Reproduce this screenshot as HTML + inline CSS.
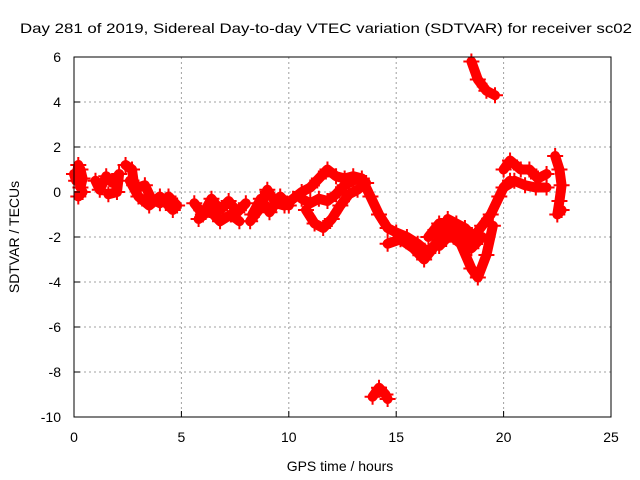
<!DOCTYPE html>
<html><head><meta charset="utf-8"><style>
body{margin:0;background:#fff}
svg{display:block;font-family:"Liberation Sans",sans-serif}
</style></head><body>
<svg id="chart" width="640" height="480">
<g id="grid"></g>
<g id="series"></g>
<g id="axes"></g>
<text x="326" y="33" font-size="14" text-anchor="middle" textLength="612" lengthAdjust="spacingAndGlyphs">Day 281 of 2019, Sidereal Day-to-day VTEC variation (SDTVAR) for receiver sc02</text>
<text x="340" y="471" font-size="14" text-anchor="middle">GPS time / hours</text>
<text x="19" y="237" font-size="14" text-anchor="middle" transform="rotate(-90 19 237)">SDTVAR / TECUs</text>
</svg>
<script>
const xTicks=[0,5,10,15,20,25];
const yTicks=[6,4,2,0,-2,-4,-6,-8,-10];
const track1=[[0,0.8],[0.1,0.5],[0.2,1.2],[0.3,1.0],[0.4,0.6],[0.3,0.2]];
const track1b=[[0.2,-0.2],[0.4,0.0]];
const track2=[[1,0.5],[1.2,0.1],[1.5,0.7],[1.8,0.4],[2.1,0.8],[2.0,0.0],[1.6,-0.1]];
const track3=[[2.4,1.2],[2.7,1.0],[2.8,0.3],[3.0,0.2],[3.3,0.3],[3.6,-0.3],[4.0,-0.5],[4.4,-0.2],[4.8,-0.6]];
const track3b=[[2.6,0.5],[3.0,-0.2],[3.5,-0.6],[4.0,-0.2],[4.6,-0.8]];
const track4=[[5.6,-0.5],[6,-1.0],[6.4,-0.3],[6.8,-0.8],[7.2,-0.4],[7.6,-0.9],[8,-0.5]];
const track4b=[[5.8,-1.2],[6.3,-0.8],[6.8,-1.3],[7.3,-1.0],[7.7,-1.3]];
const track5=[[8.2,-1.3],[8.6,-0.8],[9,0.1],[9.4,-0.5],[9.8,-0.6],[10.2,-0.3],[10.6,0.0],[11,0.2],[11.4,0.6],[11.8,1.0],[12.2,0.7],[12.6,0.6],[13,0.7],[13.4,0.6],[13.8,-0.2],[14.2,-1.0],[14.6,-1.6],[15,-1.8],[15.5,-2.0],[16,-2.3],[16.5,-2.7],[17,-2.1],[17.4,-1.2],[17.8,-1.4],[18.2,-1.6],[18.6,-2.0],[19,-1.5],[19.4,-1.0],[19.8,-0.2],[20.0,0.2],[20.3,0.5]];
const track5b=[[8.3,-1.0],[8.7,-0.3],[9.1,-0.9],[9.6,-0.2],[10.0,-0.6]];
const track6=[[10.8,-0.8],[11.2,-1.4],[11.6,-1.6],[12.0,-1.2],[12.4,-0.6],[12.8,-0.1],[13.2,0.1],[13.6,0.4]];
const track7=[[10.6,-0.3],[11.0,-0.5],[11.4,-0.3],[11.8,-0.4],[12.2,-0.1],[12.6,0.3],[13.0,0.5]];
const track8=[[17,-2.4],[17.5,-1.9],[18,-2.3],[18.5,-3.4],[18.8,-3.8],[19.2,-2.8],[19.5,-1.5]];
const track9=[[16.5,-2.0],[17.0,-1.4],[17.5,-1.6],[18,-2.0],[18.5,-2.5],[19,-2.0]];
const track9b=[[14.6,-2.3],[15.2,-2.1],[15.8,-2.5],[16.3,-3.0],[16.8,-2.4]];
const track10=[[20,1.0],[20.3,1.4],[20.8,1.0],[21.2,1.0],[21.6,0.6],[22,0.8]];
const track11=[[20,0.2],[20.5,0.5],[21,0.3],[21.5,0.2],[22,0.2]];
const track12=[[22.4,1.6],[22.6,1.0],[22.7,0.3],[22.6,-0.4],[22.5,-1.0],[22.7,-0.8]];
const track13=[[18.5,5.8],[18.8,5.0],[19.2,4.5],[19.6,4.3]];
const track14=[[13.9,-9.1],[14.2,-8.7],[14.5,-9.0],[14.6,-9.2]];
const tracks=[track1,track1b,track2,track3,track3b,track4,track4b,track5,track5b,track6,track7,track8,track9,track9b,track10,track11,track12,track13,track14];
const X0=74,X1=611,Y0=57,Y1=417;
const px=v=>X0+(v-0)/(25-0)*(X1-X0);
const py=v=>Y0+(6-v)/(16)*(Y1-Y0);
const NS='http://www.w3.org/2000/svg';
function mk(t,a,p){const e=document.createElementNS(NS,t);for(const k in a)e.setAttribute(k,a[k]);p.appendChild(e);return e;}
const grid=document.getElementById('grid'),axes=document.getElementById('axes'),ser=document.getElementById('series');
xTicks.forEach(t=>{const x=px(t);
 if(t>0&&t<25){const l=mk('line',{x1:x,y1:Y0,x2:x,y2:Y1,stroke:'#a0a0a0','stroke-dasharray':'2,3'},grid);}
 const tk=mk('line',{x1:x,y1:Y1,x2:x,y2:Y1-6,stroke:'#000'},axes);
 const tx=mk('text',{x:x,y:Y1+25,'font-size':14,'text-anchor':'middle'},axes);tx.textContent=t;
 });
yTicks.forEach(t=>{const y=py(t);
 if(t>-10&&t<6){const l=mk('line',{x1:X0,y1:y,x2:X1,y2:y,stroke:'#a0a0a0','stroke-dasharray':'2,3'},grid);}
 const tk=mk('line',{x1:X0,y1:y,x2:X0+6,y2:y,stroke:'#000'},axes);
 const tx=mk('text',{x:X0-13,y:y+5,'font-size':14,'text-anchor':'end'},axes);tx.textContent=t;
 });
const fr=mk('rect',{x:X0,y:Y0,width:X1-X0,height:Y1-Y0,fill:'none',stroke:'#000'},axes);

tracks.forEach(tr=>{
 const pl=mk('polyline',{points:tr.map(p=>px(p[0])+','+py(p[1])).join(' '),fill:'none',stroke:'#ff0000','stroke-width':10,'stroke-linejoin':'round','stroke-linecap':'round'},ser);
 
 tr.forEach(p=>{const x=px(p[0]),y=py(p[1]);
  const m=mk('path',{d:`M${x-8},${y}H${x+8}M${x},${y-8}V${y+8}`,stroke:'#ff0000','stroke-width':2},ser);
  });
});
</script>
</body></html>
